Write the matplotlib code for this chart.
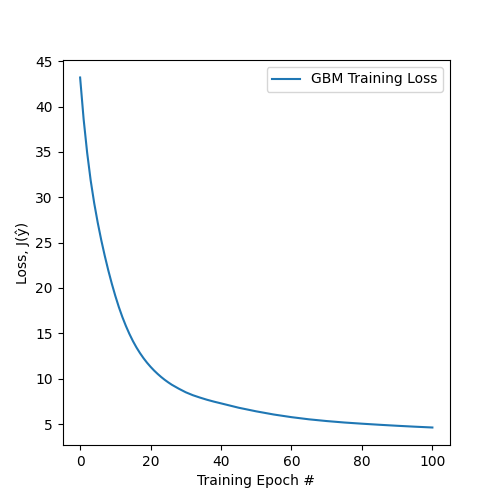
import matplotlib
matplotlib.use("Agg")
from matplotlib import pyplot as plt

# training loss
epochs = [0, 1, 2, 3, 4, 5, 6, 7, 8, 9, 10,
          11, 12, 13, 14, 15, 16, 17, 18, 19, 20,
          21, 22, 23, 24, 25, 26, 28, 30, 32, 34, 36, 38, 40,
          45, 50, 55, 60, 65, 70, 75, 80, 85, 90, 95, 100]
loss = [43.2, 38.6, 34.9, 31.85, 29.35, 27.2, 25.28, 23.54, 21.94, 20.47, 19.12,
        17.89, 16.79, 15.81, 14.93, 14.14, 13.44, 12.82, 12.26, 11.76, 11.31,
        10.9, 10.53, 10.19, 9.88, 9.6, 9.34, 8.9, 8.5, 8.18, 7.92, 7.68, 7.47, 7.28,
        6.80, 6.40, 6.05, 5.76, 5.52, 5.33, 5.17, 5.04, 4.92, 4.81, 4.71, 4.62]

fig = plt.figure(figsize=(5, 5), dpi=100)
plt.plot(epochs, loss, label="GBM Training Loss")
plt.xlabel("Training Epoch #")
plt.ylabel("Loss, J(ŷ)")
plt.legend()
plt.savefig("out.png", dpi=100)
